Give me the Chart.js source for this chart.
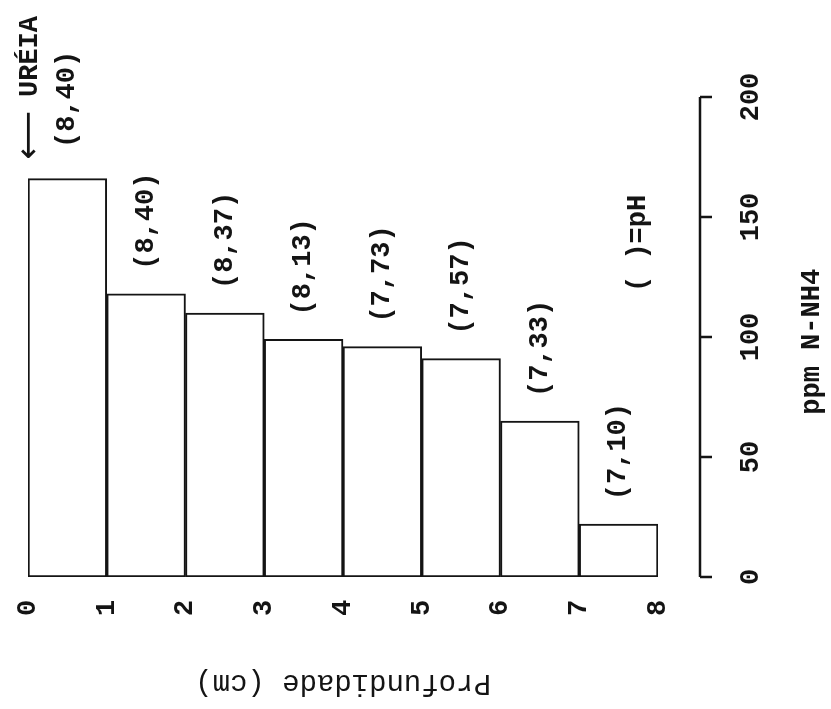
<!DOCTYPE html>
<html>
<head>
<meta charset="utf-8">
<script src="https://cdn.jsdelivr.net/npm/chart.js@4/dist/chart.umd.min.js"></script>
<style>
  html, body { margin: 0; padding: 0; background: #fff; }
  #wrap { width: 831px; height: 709px; position: relative; }
</style>
</head>
<body>
<div id="wrap"><canvas id="chart1"></canvas></div>
<script>
// soil layers (cm) and ammonium found in each
const depthTop = [0, 1, 2, 3, 4, 5, 6, 7];
const depthBottom = [1, 2, 3, 4, 5, 6, 7, 8];
const nh4 = [166, 118, 110, 99, 96, 91, 65, 22];
const phValues = [null, 8.40, 8.37, 8.13, 7.73, 7.57, 7.33, 7.10];
const ureaPh = 8.40;
const depthTicks = [0, 1, 2, 3, 4, 5, 6, 7, 8];
const ppmTicks = [0, 50, 100, 150, 200];

const INK = '#141414';
const FONT = 'bold 27px "Liberation Mono", "DejaVu Sans Mono", monospace';

function fmtPh(v) {
    return '(' + v.toFixed(2).replace('.', ',') + ')';
}

function rotText(ctx, text, x, y, angle, align) {
    ctx.save();
    ctx.translate(x, y);
    ctx.rotate(angle);
    ctx.textAlign = align || 'center';
    ctx.textBaseline = 'middle';
    ctx.fillText(text, 0, 0);
    ctx.restore();
}

const typedText = {
    id: 'typedText',
    afterDatasetsDraw(chart) {
        const ctx = chart.ctx;
        const xs = chart.scales.x;
        const ys = chart.scales.y;
        const up = -Math.PI / 2;
        ctx.save();
        ctx.fillStyle = INK;
        ctx.strokeStyle = INK;
        ctx.font = FONT;

        // depth tick labels
        depthTicks.forEach(t => {
            rotText(ctx, String(t), xs.getPixelForValue(t), ys.bottom + 31, up);
        });

        // pH above each bar
        phValues.forEach((v, i) => {
            if (v === null) return;
            const mid = (depthTop[i] + depthBottom[i]) / 2;
            rotText(ctx, fmtPh(v), xs.getPixelForValue(mid), ys.getPixelForValue(nh4[i]) - 24, up, 'left');
        });

        // urea note
        const ux = xs.getPixelForValue(0) + 2;
        rotText(ctx, 'UR\u00c9IA', ux, ys.getPixelForValue(200), up, 'left');
        rotText(ctx, fmtPh(ureaPh), ux + 37, ys.getPixelForValue(199), up);
        rotText(ctx, '( )=pH', xs.getPixelForValue(7.75), ys.getPixelForValue(139), up);
        ctx.font = '34px "DejaVu Sans", sans-serif';
        rotText(ctx, '\u27f5', ux, ys.getPixelForValue(184), up);
        ctx.font = FONT;

        // right hand axis
        const axX = xs.right + 42;
        ctx.lineWidth = 2.5;
        ctx.beginPath();
        ctx.moveTo(axX, ys.getPixelForValue(0));
        ctx.lineTo(axX, ys.getPixelForValue(200));
        ppmTicks.forEach(t => {
            const py = ys.getPixelForValue(t);
            ctx.moveTo(axX, py);
            ctx.lineTo(axX + 12, py);
        });
        ctx.stroke();
        ppmTicks.forEach(t => {
            rotText(ctx, String(t), axX + 51, ys.getPixelForValue(t), up);
        });
        rotText(ctx, 'ppm N-NH4', axX + 112, ys.getPixelForValue(98), up);

        // depth title, upside down as in the sheet
        ctx.font = '29px "Liberation Mono", "DejaVu Sans Mono", monospace';
        rotText(ctx, 'Profundidade (cm)', xs.getPixelForValue(4.0), ys.bottom + 106, Math.PI);
        ctx.restore();
    }
};

const canvas = document.getElementById('chart1');
const chart1 = new Chart(canvas.getContext('2d'), {
    type: 'bar',
    data: {
        datasets: [{
            label: 'N-NH4',
            data: nh4.map((v, i) => ({ x: (depthTop[i] + depthBottom[i]) / 2, y: v })),
            backgroundColor: '#ffffff',
            borderColor: INK,
            borderWidth: 2,
            borderSkipped: false,
            barPercentage: 1,
            categoryPercentage: 1
        }]
    },
    options: {
        responsive: true,
        maintainAspectRatio: false,
        animation: false,
        layout: { padding: { left: 28, right: 173, top: 97, bottom: 132 } },
        plugins: {
            legend: { display: false },
            tooltip: { enabled: false }
        },
        scales: {
            x: { type: 'linear', min: 0, max: 8, offset: false, display: false },
            y: { min: 0, max: 200, display: false }
        }
    },
    plugins: [typedText]
});
</script>
</body>
</html>
